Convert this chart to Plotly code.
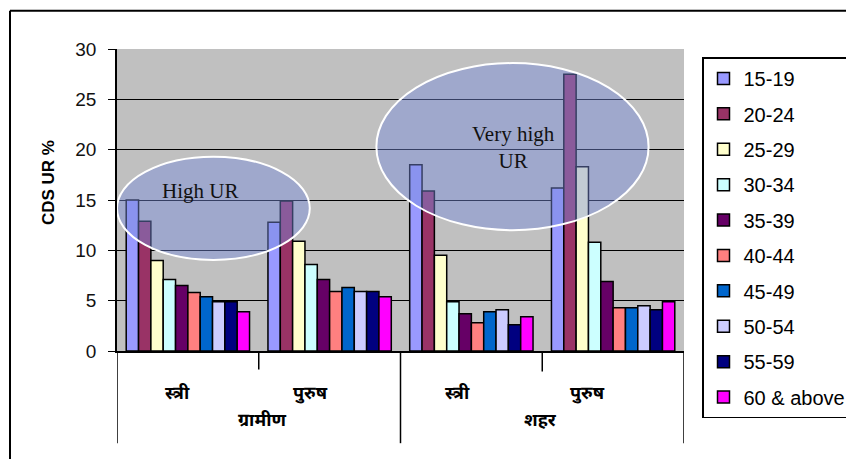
import plotly.graph_objects as go

# Groups along the category axis: area (outer level) and sex (inner level)
areas = ["ग्रामीण", "ग्रामीण", "शहर", "शहर"]
sexes = ["स्त्री", "पुरुष", "स्त्री", "पुरुष"]
categories = [f"{a} {s}" for a, s in zip(areas, sexes)]

age_groups = ["15-19", "20-24", "25-29", "30-34", "35-39",
              "40-44", "45-49", "50-54", "55-59", "60 & above"]

# CDS unemployment rate (%) per age group, in the order of `categories`
ur_15_19 = [15.0, 12.8, 18.5, 16.2]
ur_20_24 = [12.9, 14.9, 15.9, 27.5]
ur_25_29 = [9.0, 10.9, 9.5, 18.3]
ur_30_34 = [7.1, 8.6, 4.9, 10.8]
ur_35_39 = [6.5, 7.1, 3.7, 6.9]
ur_40_44 = [5.8, 5.9, 2.8, 4.3]
ur_45_49 = [5.4, 6.3, 3.9, 4.3]
ur_50_54 = [4.9, 5.9, 4.1, 4.5]
ur_55_59 = [4.9, 5.9, 2.6, 4.1]
ur_60_up = [3.9, 5.4, 3.4, 4.9]
series = [ur_15_19, ur_20_24, ur_25_29, ur_30_34, ur_35_39,
          ur_40_44, ur_45_49, ur_50_54, ur_55_59, ur_60_up]

colors = ["#9999FF", "#993366", "#FFFFCC", "#CCFFFF", "#660066",
          "#FF8080", "#0066CC", "#CCCCFF", "#000080", "#FF00FF"]

y_ticks = [0, 5, 10, 15, 20, 25, 30]

FONT = "Arial, 'Liberation Sans', sans-serif"
DEVA = "'Noto Sans Devanagari', 'Noto Sans', 'Lohit Devanagari', 'FreeSans', sans-serif"
SERIF = "'Times New Roman', 'Liberation Serif', serif"

fig = go.Figure()
for name, vals, col in zip(age_groups, series, colors):
    fig.add_trace(go.Bar(
        x=categories, y=vals, name=name, legendgroup=name,
        marker=dict(color=col, line=dict(color="black", width=1.5)),
    ))

W, H = 846, 459
L, R, T, B = 117, 684, 48.5, 351.5
pw, ph = R - L, B - T


def px_x(px):
    return (px - L) / pw


def px_y(py):
    return (B - py) / ph


shapes = []
# Highlight ellipses drawn over the bars
shapes.append(dict(type="circle", xref="x", yref="y", layer="above",
                   x0=-0.5, x1=0.86, y0=9.05, y1=19.3,
                   fillcolor="rgba(120,140,220,0.45)",
                   line=dict(color="white", width=2)))
shapes.append(dict(type="circle", xref="x", yref="y", layer="above",
                   x0=1.33, x1=3.25, y0=12.0, y1=28.6,
                   fillcolor="rgba(120,140,220,0.45)",
                   line=dict(color="white", width=2)))

# Category dividers below the axis: long between areas, short between sexes
for xv, bottom in [(-0.5, 444), (0.5, 370), (1.5, 444), (2.5, 372), (3.5, 444)]:
    shapes.append(dict(type="line", xref="x", yref="paper",
                       x0=xv, x1=xv, y0=0, y1=px_y(bottom),
                       line=dict(color="black", width=1.5)))

# Chart frame (left and top edges)
shapes.append(dict(type="line", xref="paper", yref="paper",
                   x0=px_x(10), x1=px_x(10), y0=px_y(470), y1=px_y(10),
                   line=dict(color="black", width=2)))
shapes.append(dict(type="line", xref="paper", yref="paper",
                   x0=px_x(10), x1=px_x(860), y0=px_y(10), y1=px_y(10),
                   line=dict(color="black", width=2)))

annotations = []
# Inner (sex) labels
for cat, s, dx in zip(categories, sexes, [-10, -19, -14, -26]):
    annotations.append(dict(x=cat, xref="x", y=px_y(395), yref="paper",
                            xanchor="center", yanchor="middle",
                            text=f"<b>{s}</b>", showarrow=False, xshift=dx,
                            font=dict(family=DEVA, size=18, color="black")))
# Outer (area) labels
for xv, a, dx in [(0.5, "ग्रामीण", 3), (2.5, "शहर", -2)]:
    annotations.append(dict(x=xv, xref="x", y=px_y(422), yref="paper",
                            xanchor="center", yanchor="middle",
                            text=f"<b>{a}</b>", showarrow=False, xshift=dx,
                            font=dict(family=DEVA, size=18, color="black")))
# Ellipse captions
annotations.append(dict(x=px_x(200), xref="paper", y=px_y(191), yref="paper",
                        xanchor="center", yanchor="middle",
                        text="High UR", showarrow=False,
                        font=dict(family=SERIF, size=21, color="#111111")))
annotations.append(dict(x=px_x(513), xref="paper", y=px_y(147), yref="paper",
                        xanchor="center", yanchor="middle",
                        text="Very high<br>UR", showarrow=False,
                        font=dict(family=SERIF, size=21, color="#111111")))
# Axis title
annotations.append(dict(x=px_x(48), xref="paper", y=px_y(183), yref="paper",
                        xanchor="center", yanchor="middle",
                        text="<b>CDS UR %</b>", textangle=-90, showarrow=False,
                        font=dict(family=FONT, size=17, color="black")))

fig.update_layout(
    width=W, height=H,
    margin=dict(l=L, r=W - R, t=T, b=H - B, autoexpand=False),
    paper_bgcolor="white", plot_bgcolor="#C0C0C0",
    barmode="group", bargap=0.13, bargroupgap=0,
    font=dict(family=FONT, color="black"),
    showlegend=True,
    legend=dict(x=px_x(702), y=px_y(57), xanchor="left", yanchor="top",
                xref="paper", yref="paper", maxheight=420,
                bgcolor="white", bordercolor="black", borderwidth=1.5,
                font=dict(family=FONT, size=20, color="black"),
                traceorder="grouped", tracegroupgap=6.4),
    shapes=shapes, annotations=annotations,
)
fig.update_xaxes(showticklabels=False, ticks="", showgrid=False,
                 showline=True, linecolor="black", linewidth=1.5,
                 range=[-0.5, 3.5], fixedrange=True)
fig.update_yaxes(range=[0, 30], tickvals=y_ticks, showgrid=True,
                 gridcolor="black", gridwidth=1, zeroline=False,
                 showline=True, linecolor="black", linewidth=1.5,
                 ticks="outside", ticklen=7, tickcolor="black",
                 ticklabelstandoff=8,
                 tickfont=dict(family=FONT, size=19, color="#111111"),
                 fixedrange=True)

fig.write_html("out.html")
